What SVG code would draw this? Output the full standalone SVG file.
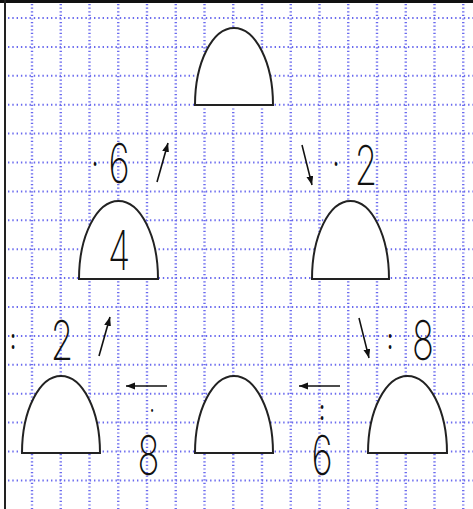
<svg xmlns="http://www.w3.org/2000/svg" width="473" height="509" viewBox="0 0 473 509">
<defs>
<style>
.gv{stroke:#6a6aee;stroke-width:2.4;stroke-dasharray:1.2 2.4;fill:none}
.gh{stroke:#6a6aee;stroke-width:2;stroke-dasharray:1.4 2.9;fill:none}
.dome{fill:#fff;stroke:#222;stroke-width:2}
.arr{stroke:#111;stroke-width:1.6;fill:none;marker-end:url(#ah)}
.lab{font-family:Inter,Lato,"Open Sans","DejaVu Sans",sans-serif;fill:#111;text-anchor:middle}
.num{font-weight:230;font-size:55px}
.op{font-weight:500;font-size:28px}
.dot{font-weight:900;font-size:15px}
</style>
<marker id="ah" markerUnits="userSpaceOnUse" markerWidth="10" markerHeight="8" refX="9" refY="3.5" orient="auto">
<path d="M0,0 L9,3.5 L0,7 Z" fill="#111"/>
</marker>
</defs>
<rect width="473" height="509" fill="#fff"/>
<g id="grid">
<path class="gv" d="M32,4V509M60.75,4V509M89.5,4V509M118.25,4V509M147,4V509M175.75,4V509M204.5,4V509M233.25,4V509M262,4V509M290.75,4V509M319.5,4V509M348.25,4V509M377,4V509M405.75,4V509M434.5,4V509M463.25,4V509"/>
<path class="gh" d="M8,18H473M8,46.9H473M8,75.8H473M8,104.7H473M8,133.6H473M8,162.5H473M8,191.4H473M8,220.3H473M8,249.2H473M8,278.1H473M8,307H473M8,335.9H473M8,364.8H473M8,393.7H473M8,422.6H473M8,451.5H473M8,480.4H473"/>
</g>
<line x1="0" y1="1.5" x2="473" y2="1.5" stroke="#111" stroke-width="3"/>
<line x1="5" y1="0" x2="5" y2="509" stroke="#222" stroke-width="2"/>
<g id="node-top"><path class="dome" d="M195,105 A39,77 0 0 1 273,105 Z"/></g>
<g id="node-mid-left"><path class="dome" d="M79,279 A39.5,78 0 0 1 158,279 Z"/><text class="lab num" transform="translate(119,270) scale(0.66,1)">4</text></g>
<g id="node-mid-right"><path class="dome" d="M312,279 A38.5,78 0 0 1 389,279 Z"/></g>
<g id="node-bot-left"><path class="dome" d="M22,453 A39,77 0 0 1 100,453 Z"/></g>
<g id="node-bot-mid"><path class="dome" d="M195,453 A39,77 0 0 1 273,453 Z"/></g>
<g id="node-bot-right"><path class="dome" d="M368,453 A39.5,77 0 0 1 447,453 Z"/></g>
<g id="connectors">
<line class="arr" x1="157" y1="182" x2="168" y2="143"/>
<line class="arr" x1="302" y1="145" x2="312" y2="185"/>
<line class="arr" x1="99" y1="356" x2="110" y2="317"/>
<line class="arr" x1="359" y1="318" x2="369" y2="358"/>
<line class="arr" x1="167" y1="386" x2="126" y2="386"/>
<line class="arr" x1="340" y1="386" x2="299" y2="386"/>
</g>
<g id="labels">
<text class="lab" transform="translate(119,0) scale(0.66,1)"><tspan class="op" x="-36.4" y="174">·</tspan><tspan class="num" x="0" y="183">6</tspan></text>
<text class="lab" transform="translate(366,0) scale(0.66,1)"><tspan class="op" x="-45.5" y="174">·</tspan><tspan class="num" x="0" y="185">2</tspan></text>
<text class="lab" transform="translate(62,0) scale(0.66,1)"><tspan class="op" x="-74.2" y="349">:</tspan><tspan class="num" x="0" y="360">2</tspan></text>
<text class="lab" transform="translate(423,0) scale(0.66,1)"><tspan class="op" x="-50" y="349">:</tspan><tspan class="num" x="0" y="360">8</tspan></text>
<text class="lab" transform="translate(148.5,0) scale(0.66,1)"><tspan class="dot" x="5.3" y="416">·</tspan><tspan class="num" x="0" y="475">8</tspan></text>
<text class="lab" transform="translate(322,0) scale(0.66,1)"><tspan class="op" x="0" y="420">:</tspan><tspan class="num" x="0" y="475">6</tspan></text>
</g>
</svg>
